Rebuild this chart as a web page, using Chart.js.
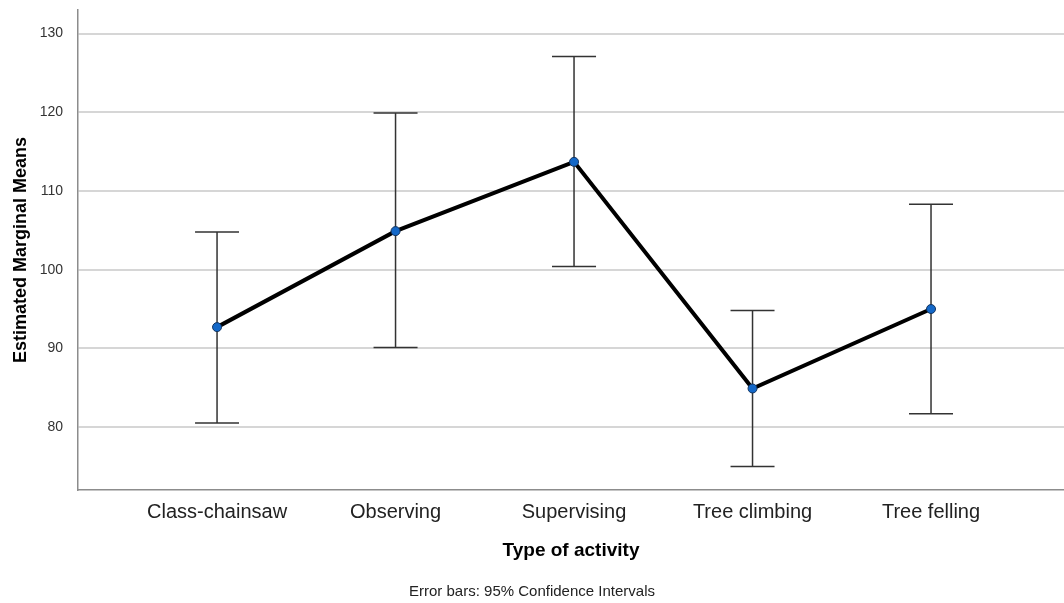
<!DOCTYPE html>
<html lang="en">

<head>
  <meta charset="UTF-8">
  <title>Estimated Marginal Means by Type of activity</title>
  <script src="https://cdn.jsdelivr.net/npm/chart.js"></script>
  <style>
    body {
      margin: 0;
      background: #fff;
    }

    canvas {
      display: block;
    }
  </style>
</head>

<body>
  <canvas id="emmChart" width="1064" height="603"></canvas>

  <script>
    const activities = ['Class-chainsaw', 'Observing', 'Supervising', 'Tree climbing', 'Tree felling'];
    const means = [92.7, 104.9, 113.7, 84.9, 95.0];
    const lowerCI = [80.5, 90.1, 100.4, 75.0, 81.7];
    const upperCI = [104.8, 119.9, 127.1, 94.8, 108.3];
    const yTicks = [80, 90, 100, 110, 120, 130];

    // whiskers with caps, drawn under the line
    const errorBars = {
      id: 'errorBars',
      beforeDatasetsDraw(chart) {
        const { ctx, scales: { x, y } } = chart;
        ctx.save();
        ctx.strokeStyle = '#333';
        ctx.lineWidth = 1.5;
        activities.forEach((_, i) => {
          const px = x.getPixelForValue(i);
          const top = y.getPixelForValue(upperCI[i]);
          const bot = y.getPixelForValue(lowerCI[i]);
          ctx.beginPath();
          ctx.moveTo(px, top);
          ctx.lineTo(px, bot);
          ctx.moveTo(px - 22, top);
          ctx.lineTo(px + 22, top);
          ctx.moveTo(px - 22, bot);
          ctx.lineTo(px + 22, bot);
          ctx.stroke();
        });
        ctx.restore();
      }
    };

    const ctx = document.getElementById('emmChart').getContext('2d');

    new Chart(ctx, {
      type: 'line',
      data: {
        datasets: [{
          label: 'Estimated Marginal Means',
          data: means.map((m, i) => ({ x: i, y: m })),
          borderColor: '#000',
          borderWidth: 4,
          tension: 0,
          pointRadius: 4.5,
          pointBackgroundColor: '#1468c8',
          pointBorderColor: '#12335e',
          pointBorderWidth: 1
        }]
      },
      options: {
        responsive: false,
        animation: false,
        layout: { autoPadding: false, padding: { top: 10, left: 0, right: 0, bottom: 0 } },
        plugins: {
          legend: { display: false },
          tooltip: { enabled: false },
          title: {
            display: true,
            position: 'bottom',
            text: 'Error bars: 95% Confidence Intervals',
            color: '#222',
            font: { family: 'Liberation Sans', size: 15, weight: 'normal' },
            padding: { top: 0, bottom: 2 }
          }
        },
        scales: {
          x: {
            type: 'linear',
            min: -0.779,
            max: 4.745,
            grid: { display: false, drawTicks: false },
            border: { color: '#8c8c8c', width: 1.5 },
            ticks: {
              stepSize: 1,
              includeBounds: false,
              autoSkip: false,
              maxRotation: 0,
              padding: 10,
              color: '#222',
              font: { family: 'Liberation Sans', size: 20 },
              callback: v => Number.isInteger(v) ? activities[v] : ''
            },
            title: {
              display: true,
              text: 'Type of activity',
              color: '#000',
              font: { family: 'Liberation Sans', size: 19, weight: 'bold' },
              padding: { top: 0, bottom: 20.6 }
            },
            afterFit: scale => {
              scale.height = 93;
              scale.paddingLeft = 0;
              scale.paddingRight = 0;
            }
          },
          y: {
            min: 72,
            max: 133,
            grid: { color: '#d6d6d6', lineWidth: 2, drawTicks: false },
            border: { color: '#8c8c8c', width: 1.5 },
            ticks: {
              stepSize: 10,
              includeBounds: false,
              padding: 15,
              color: '#333',
              font: { family: 'Liberation Sans', size: 14 },
              callback: v => yTicks.includes(v) ? v : ''
            },
            title: {
              display: true,
              text: 'Estimated Marginal Means',
              color: '#000',
              font: { family: 'Liberation Sans', size: 18, weight: 'bold' },
              padding: { top: 10, bottom: 0 }
            },
            afterFit: scale => {
              scale.width = 78;
              scale.paddingTop = 0;
              scale.paddingBottom = 0;
            }
          }
        }
      },
      plugins: [errorBars]
    });
  </script>
</body>

</html>
